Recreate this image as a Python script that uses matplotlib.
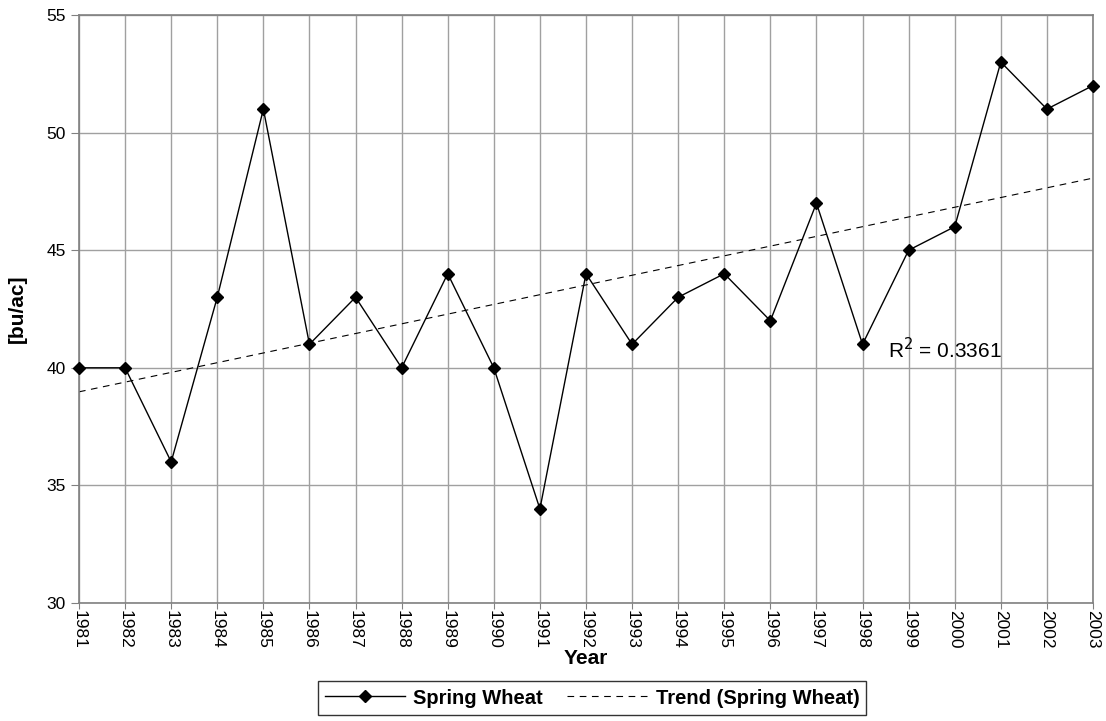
import numpy as np
import matplotlib
matplotlib.use("Agg")
import matplotlib.pyplot as plt

plt.rcParams['font.family'] = ['Liberation Sans', 'DejaVu Sans']

years = [1981, 1982, 1983, 1984, 1985, 1986, 1987, 1988, 1989, 1990, 1991, 1992,
         1993, 1994, 1995, 1996, 1997, 1998, 1999, 2000, 2001, 2002, 2003]
spring_wheat = [40, 40, 36, 43, 51, 41, 43, 40, 44, 40, 34, 44,
                41, 43, 44, 42, 47, 41, 45, 46, 53, 51, 52]
r2_label = "R$^2$ = 0.3361"

fig = plt.figure(figsize=(11.06, 7.21), dpi=100)
ax = fig.add_axes([79/1106, 1-603/721, (1093-79)/1106, (603-15)/721])

x = np.array(years, dtype=float)
y = np.array(spring_wheat, dtype=float)
coef = np.polyfit(x, y, 1)
trend = np.polyval(coef, x)

ax.plot(x, y, color='black', lw=1, marker='D', markersize=6, label='Spring Wheat',
        zorder=3, clip_on=False)
ax.plot(x, trend, color='black', lw=0.8, ls=(0, (6, 5)), label='Trend (Spring Wheat)', zorder=2)

ax.set_xlim(1981, 2003)
ax.set_ylim(30, 55)
ax.set_xticks(years)
ax.set_xticklabels([str(v) for v in years], rotation=-90, fontsize=12.5)
ax.set_yticks([30, 35, 40, 45, 50, 55])
ax.tick_params(axis='y', labelsize=12.5, length=6, color='#808080')
ax.tick_params(axis='x', length=4, color='#808080', pad=1)
ax.grid(True, color='#a0a0a0', lw=1)
ax.set_axisbelow(True)
for s in ax.spines.values():
    s.set_color('#808080')
    s.set_linewidth(1.2)

ax.set_xlabel('Year', fontsize=15, fontweight='bold', labelpad=0)
ax.set_ylabel('[bu/ac]', fontsize=15, fontweight='bold', labelpad=14)

ax.text(1998.55, 40.25, r2_label, fontsize=15, ha='left', va='bottom')

leg = fig.legend(loc='center', bbox_to_anchor=(592/1106, 1-698/721), ncol=2,
                 frameon=True, fancybox=False, handlelength=4,
                 prop={'weight': 'bold', 'size': 14.5}, borderpad=0.35, columnspacing=1.2,
                 handletextpad=0.4)
leg.get_frame().set_edgecolor('black')
leg.get_frame().set_linewidth(1)

fig.savefig('out.png', dpi=100)
